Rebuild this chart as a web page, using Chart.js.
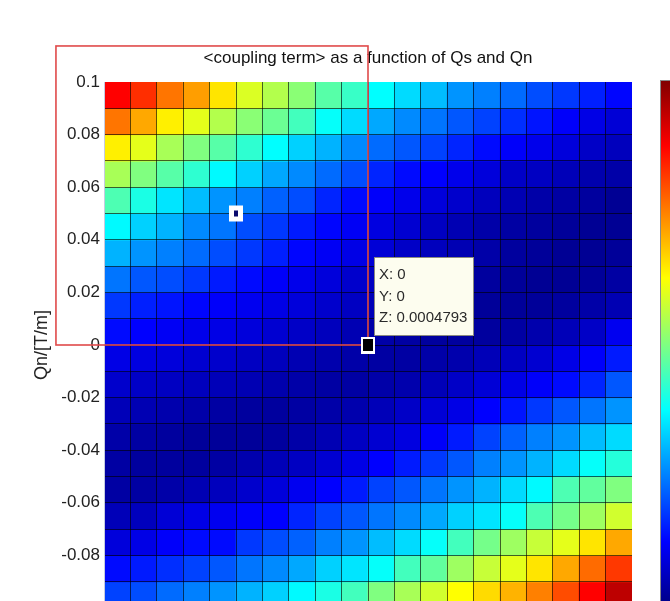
<!DOCTYPE html>
<html>
<head>
<meta charset="utf-8">
<script src="https://cdn.jsdelivr.net/npm/chart.js@4.4.1/dist/chart.umd.min.js"></script>
<style>
  html, body { margin: 0; padding: 0; background: #ffffff; overflow: hidden; width: 670px; height: 601px; }
  #wrap { position: absolute; left: 0; top: 0; width: 670px; height: 660px; }
</style>
</head>
<body>
<div id="wrap"><canvas id="c" width="670" height="660"></canvas></div>
<script>
// ---- data ----
const chartTitle = '<coupling term> as a function of Qs and Qn';
const yAxisLabel = 'Qn/[T/m]';
// column centres / edges (Qs) and row edges (Qn, top row first)
const qsCenters = [-0.095, -0.085, -0.075, -0.065, -0.055, -0.045, -0.035, -0.025, -0.015, -0.005,
                    0.005,  0.015,  0.025,  0.035,  0.045,  0.055,  0.065,  0.075,  0.085,  0.095];
const qsEdges = [-0.1, -0.09, -0.08, -0.07, -0.06, -0.05, -0.04, -0.03, -0.02, -0.01, 0,
                  0.01, 0.02, 0.03, 0.04, 0.05, 0.06, 0.07, 0.08, 0.09, 0.1];
const qnEdges = [0.1, 0.09, 0.08, 0.07, 0.06, 0.05, 0.04, 0.03, 0.02, 0.01, 0,
                 -0.01, -0.02, -0.03, -0.04, -0.05, -0.06, -0.07, -0.08, -0.09, -0.1];
const labelledTicks = [0.1, 0.08, 0.06, 0.04, 0.02, 0, -0.02, -0.04, -0.06, -0.08, -0.1];
// colour-scale value of every cell (0 = bottom of colour bar, 1 = top), rows from top
const zRow01 = [0.875,0.83,0.76,0.72,0.65,0.59,0.55,0.51,0.46,0.43,0.375,0.34,0.31,0.27,0.25,0.23,0.2,0.18,0.155,0.13];
const zRow02 = [0.76,0.71,0.64,0.6,0.55,0.51,0.48,0.44,0.38,0.34,0.29,0.26,0.24,0.21,0.19,0.17,0.145,0.12,0.1,0.085];
const zRow03 = [0.64,0.6,0.54,0.5,0.46,0.42,0.375,0.33,0.3,0.26,0.23,0.21,0.19,0.16,0.135,0.12,0.105,0.09,0.07,0.06];
const zRow04 = [0.54,0.5,0.46,0.42,0.37,0.33,0.29,0.26,0.23,0.2,0.16,0.135,0.125,0.105,0.09,0.07,0.065,0.055,0.045,0.04];
const zRow05 = [0.45,0.4,0.35,0.31,0.27,0.25,0.22,0.2,0.16,0.135,0.12,0.105,0.09,0.075,0.06,0.05,0.04,0.035,0.03,0.02];
const zRow06 = [0.37,0.33,0.3,0.26,0.24,0.2,0.18,0.15,0.13,0.115,0.095,0.08,0.065,0.05,0.04,0.035,0.03,0.025,0.02,0.02];
const zRow07 = [0.3,0.27,0.25,0.23,0.2,0.18,0.155,0.13,0.115,0.1,0.085,0.07,0.06,0.05,0.04,0.03,0.025,0.02,0.02,0.025];
const zRow08 = [0.24,0.21,0.2,0.18,0.15,0.135,0.12,0.105,0.09,0.075,0.065,0.055,0.045,0.035,0.03,0.025,0.02,0.02,0.025,0.035];
const zRow09 = [0.18,0.155,0.145,0.13,0.12,0.11,0.1,0.09,0.075,0.065,0.055,0.045,0.035,0.03,0.025,0.025,0.025,0.03,0.04,0.05];
const zRow10 = [0.135,0.125,0.115,0.105,0.1,0.09,0.08,0.07,0.06,0.05,0.04,0.035,0.03,0.03,0.03,0.035,0.045,0.055,0.07,0.11];
const zRow11 = [0.1,0.095,0.09,0.08,0.075,0.065,0.06,0.05,0.045,0.04,0.035,0.035,0.04,0.045,0.055,0.065,0.08,0.1,0.12,0.15];
const zRow12 = [0.075,0.07,0.065,0.06,0.055,0.05,0.045,0.04,0.035,0.035,0.04,0.045,0.055,0.07,0.085,0.1,0.12,0.135,0.16,0.21];
const zRow13 = [0.055,0.05,0.045,0.04,0.035,0.03,0.03,0.035,0.04,0.045,0.055,0.07,0.085,0.1,0.125,0.145,0.18,0.21,0.24,0.27];
const zRow14 = [0.04,0.035,0.03,0.025,0.025,0.025,0.03,0.04,0.05,0.065,0.08,0.095,0.12,0.15,0.19,0.22,0.25,0.27,0.31,0.34];
const zRow15 = [0.035,0.03,0.03,0.03,0.035,0.045,0.055,0.065,0.08,0.1,0.125,0.15,0.18,0.21,0.25,0.27,0.3,0.34,0.38,0.41];
const zRow16 = [0.035,0.035,0.04,0.05,0.06,0.075,0.09,0.11,0.125,0.15,0.19,0.21,0.24,0.27,0.3,0.34,0.37,0.45,0.47,0.5];
const zRow17 = [0.055,0.06,0.085,0.1,0.11,0.12,0.125,0.16,0.19,0.21,0.24,0.26,0.29,0.33,0.35,0.38,0.45,0.49,0.53,0.58];
const zRow18 = [0.09,0.1,0.12,0.135,0.135,0.18,0.2,0.22,0.25,0.27,0.31,0.34,0.38,0.44,0.49,0.53,0.57,0.6,0.65,0.71];
const zRow19 = [0.135,0.15,0.17,0.19,0.21,0.24,0.26,0.29,0.33,0.35,0.38,0.44,0.47,0.53,0.57,0.6,0.65,0.71,0.77,0.82];
const zRow20 = [0.19,0.2,0.23,0.25,0.27,0.3,0.33,0.37,0.4,0.44,0.5,0.54,0.58,0.625,0.66,0.7,0.75,0.8,0.875,0.94];
const zRows = [zRow01,zRow02,zRow03,zRow04,zRow05,zRow06,zRow07,zRow08,zRow09,zRow10,
               zRow11,zRow12,zRow13,zRow14,zRow15,zRow16,zRow17,zRow18,zRow19,zRow20];
// data tip and selected point
const tipPoint = [0, 0];
const tipLines = ['X: 0', 'Y: 0', 'Z: 0.0004793'];
const markPoint = [-0.05, 0.05];
// hand-drawn highlight box (data units: left, top, right, bottom)
const highlightBox = [-0.1182, 0.1137, 0, 0];

// ---- jet colour map ----
function jet(v) {
  const c = (t) => Math.max(0, Math.min(1, t));
  return [c(1.5 - Math.abs(4 * v - 3)), c(1.5 - Math.abs(4 * v - 2)), c(1.5 - Math.abs(4 * v - 1))];
}
function rgb(a) {
  return 'rgb(' + Math.round(a[0] * 255) + ',' + Math.round(a[1] * 255) + ',' + Math.round(a[2] * 255) + ')';
}

const datasets = zRows.map((row, i) => ({
  label: 'Qn ' + qnEdges[i + 1] + '..' + qnEdges[i],
  data: qsCenters.map((x) => ({ x: x, y: [qnEdges[i + 1], qnEdges[i]] })),
  backgroundColor: row.map((v) => rgb(jet(v))),
  borderWidth: 0,
  inflateAmount: 0.5,
  stack: 'grid',
  barPercentage: 1,
  categoryPercentage: 1
}));

const isLabelled = (v) => labelledTicks.some((t) => Math.abs(t - v) < 1e-9);
const isEdge = (v) => Math.abs(Math.abs(v) - 0.1) < 1e-9;
const cellLine = (c) => (c.tick && isEdge(c.tick.value)) ? 'rgba(0,0,0,0)' : 'rgba(0,0,0,0.62)';

const overlayPlugin = {
  id: 'overlay',
  afterDraw(chart) {
    const ctx = chart.ctx;
    const xs = chart.scales.x, ys = chart.scales.y;
    const area = chart.chartArea;
    ctx.save();
    // colour bar
    const cbX = area.right + 28, cbW = 24, cbTop = area.top - 2, cbBot = area.bottom;
    const grad = ctx.createLinearGradient(0, cbBot, 0, cbTop);
    for (let k = 0; k <= 32; k++) grad.addColorStop(k / 32, rgb(jet(k / 32)));
    ctx.fillStyle = grad;
    ctx.fillRect(cbX, cbTop, cbW, cbBot - cbTop);
    ctx.strokeStyle = '#888';
    ctx.lineWidth = 1;
    ctx.strokeRect(cbX + 0.5, cbTop + 0.5, cbW, cbBot - cbTop);

    // selected point marker
    const mx = xs.getPixelForValue(markPoint[0]), my = ys.getPixelForValue(markPoint[1]);
    ctx.fillStyle = '#ffffff';
    ctx.fillRect(mx - 7, my - 8, 14, 16);
    ctx.fillStyle = '#0a0a6e';
    ctx.fillRect(mx - 2, my - 3, 4, 6);

    // red highlight box
    const hx0 = xs.getPixelForValue(highlightBox[0]), hy0 = ys.getPixelForValue(highlightBox[1]);
    const hx1 = xs.getPixelForValue(highlightBox[2]), hy1 = ys.getPixelForValue(highlightBox[3]);
    ctx.strokeStyle = '#e04a4a';
    ctx.lineWidth = 1.6;
    ctx.strokeRect(hx0, hy0, hx1 - hx0, hy1 - hy0);

    // data tip marker
    const px = xs.getPixelForValue(tipPoint[0]), py = ys.getPixelForValue(tipPoint[1]);
    ctx.fillStyle = '#ffffff';
    ctx.fillRect(px - 7, py - 8, 14, 17);
    ctx.fillStyle = '#000000';
    ctx.fillRect(px - 5, py - 6, 10, 12);

    // data tip box
    const bx = px + 6, by = py - 88, bw = 99, bh = 78;
    ctx.fillStyle = '#fdfdef';
    ctx.fillRect(bx, by, bw, bh);
    ctx.strokeStyle = '#8a8a80';
    ctx.lineWidth = 1;
    ctx.strokeRect(bx + 0.5, by + 0.5, bw, bh);
    ctx.fillStyle = '#2a2a2a';
    ctx.font = '15px "Liberation Sans", Arial, sans-serif';
    ctx.textBaseline = 'middle';
    ctx.textAlign = 'left';
    tipLines.forEach((t, k) => ctx.fillText(t, bx + 5, by + 18 + k * 21.5));
    ctx.restore();
  }
};

Chart.defaults.font.family = '"Liberation Sans", Arial, sans-serif';
Chart.defaults.color = '#222';

new Chart(document.getElementById('c'), {
  type: 'bar',
  data: { datasets: datasets },
  options: {
    responsive: false,
    animation: false,
    layout: { padding: { top: 0, right: 38, bottom: 12, left: 0 } },
    plugins: {
      legend: { display: false },
      tooltip: { enabled: false },
      title: {
        display: true,
        text: chartTitle,
        fullSize: false,
        color: '#111',
        font: { size: 17, weight: 'normal' },
        padding: { top: 48, bottom: 13.6 }
      }
    },
    scales: {
      x: {
        type: 'linear',
        min: -0.1, max: 0.1,
        offset: false,
        grid: { display: true, offset: false, drawTicks: false, z: 1, lineWidth: 1, color: cellLine },
        border: { display: true, color: '#c5cbe0', z: 2 },
        afterBuildTicks: (s) => { s.ticks = qsEdges.map((v) => ({ value: v })); },
        ticks: { autoSkip: false, font: { size: 17 }, color: '#222',
                 callback: (v) => isLabelled(v) ? String(Number(Number(v).toFixed(2))) : '' },
        afterFit: (s) => { s.height = 40; }
      },
      y: {
        type: 'linear',
        min: -0.1, max: 0.1,
        stacked: false,
        grid: { display: true, drawTicks: false, z: 1, lineWidth: 1, color: cellLine },
        border: { display: true, color: '#c5cbe0', z: 2 },
        afterBuildTicks: (s) => { s.ticks = qnEdges.map((v) => ({ value: v })); },
        ticks: { autoSkip: false, padding: 4, font: { size: 17 }, color: '#222',
                 callback: (v) => isLabelled(v) ? String(Number(Number(v).toFixed(2))) : '' },
        title: { display: true, text: yAxisLabel, font: { size: 18 }, color: '#222',
                 padding: { top: 31, bottom: 0 } },
        afterFit: (s) => { s.width = 104; }
      }
    }
  },
  plugins: [overlayPlugin]
});
</script>
</body>
</html>
